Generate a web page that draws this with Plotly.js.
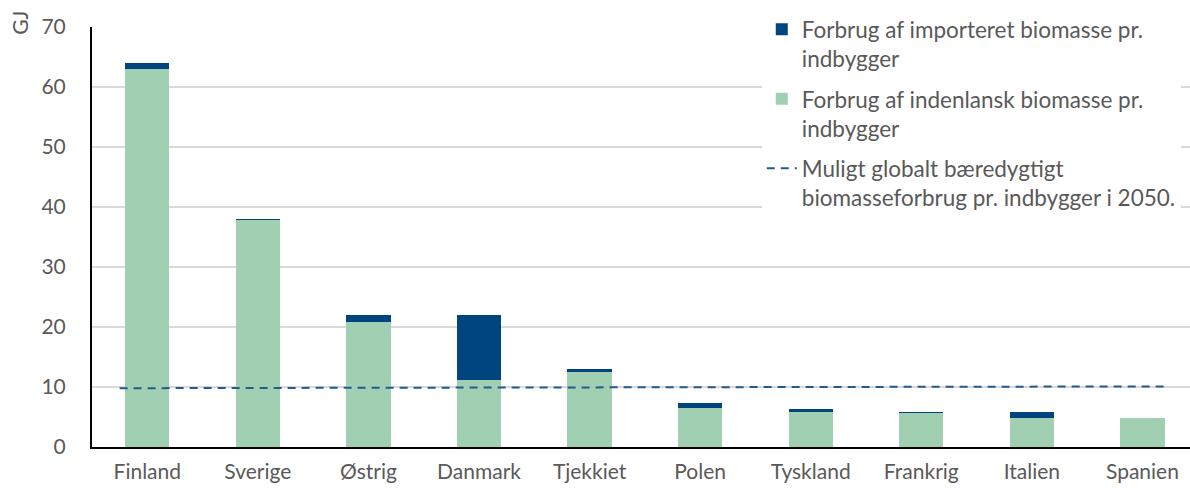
<!DOCTYPE html>
<html>
<head>
<meta charset="utf-8">
<script src="https://cdn.plot.ly/plotly-3.0.1.min.js"></script>
<style>html,body{margin:0;padding:0;background:#fff;}#chart{width:1190px;height:488px;}</style>
</head>
<body>
<div id="chart"></div>
<script>
const countries = ["Finland","Sverige","Østrig","Danmark","Tjekkiet","Polen","Tyskland","Frankrig","Italien","Spanien"];
const domestic = [63.0, 37.8, 20.8, 11.2, 12.5, 6.5, 5.9, 5.6, 4.9, 4.8];
const imported = [1.0, 0.2, 1.2, 10.8, 0.5, 0.8, 0.4, 0.3, 0.9, 0.0];
const sustainX = [-0.25, 9.2];
const sustainY = [9.8, 10.1];
const yTicks = [0,10,20,30,40,50,60,70];

const idx = countries.map((c,i)=>i);
const txtColor = '#595959';
const fontFam = 'Lato, "Liberation Sans", sans-serif';

const traces = [
  {type:'bar', x: idx, y: domestic, name:'Forbrug af indenlansk biomasse pr.<br>indbygger',
   marker:{color:'#A1CFB1'}, width:0.4, legendrank:2, legendgroup:'b', hoverinfo:'y'},
  {type:'bar', x: idx, y: imported, name:'Forbrug af importeret biomasse pr.<br>indbygger',
   marker:{color:'#00457F'}, width:0.4, legendrank:1, legendgroup:'a', hoverinfo:'y'},
  {type:'scatter', mode:'lines', x: sustainX, y: sustainY,
   name:'Muligt globalt bæredygtigt<br>biomasseforbrug pr. indbygger i 2050.',
   line:{color:'#1F5C92', width:2, dash:'8px,6px'}, legendrank:3, legendgroup:'c'}
];

const layout = {
  width:1190, height:488,
  margin:{l:92, r:0, t:27, b:41},
  paper_bgcolor:'#fff', plot_bgcolor:'#fff',
  barmode:'stack',
  font:{family:fontFam, size:21, color:txtColor},
  xaxis:{
    range:[-0.5, 9.43], tickmode:'array', tickvals: idx, ticktext: countries,
    showgrid:false, zeroline:false, showline:true, linecolor:'#000', linewidth:2,
    ticks:'', ticklabelstandoff:5, tickfont:{size:21, color:txtColor}, fixedrange:true
  },
  yaxis:{
    range:[0,70], tickmode:'array', tickvals:yTicks,
    showgrid:true, gridcolor:'#D9D9D9', gridwidth:1.5, zeroline:false,
    showline:true, linecolor:'#000', linewidth:2, ticks:'', ticklabelstandoff:20,
    tickfont:{size:21, color:txtColor}
  },
  legend:{
    x:0.61, xanchor:'left', y:1.045, yanchor:'top',
    bgcolor:'#fff', borderwidth:0, traceorder:'grouped',
    font:{size:22.5, color:txtColor, family:fontFam}, valign:'top', tracegroupgap:8
  },
  annotations:[
    {text:'GJ', xref:'paper', yref:'paper', x:-0.0656, y:1.01, xanchor:'center', yanchor:'middle',
     showarrow:false, textangle:-90, font:{size:21, color:txtColor}}
  ]
};

Plotly.newPlot('chart', traces, layout, {displayModeBar:false, staticPlot:true});
</script>
</body>
</html>
